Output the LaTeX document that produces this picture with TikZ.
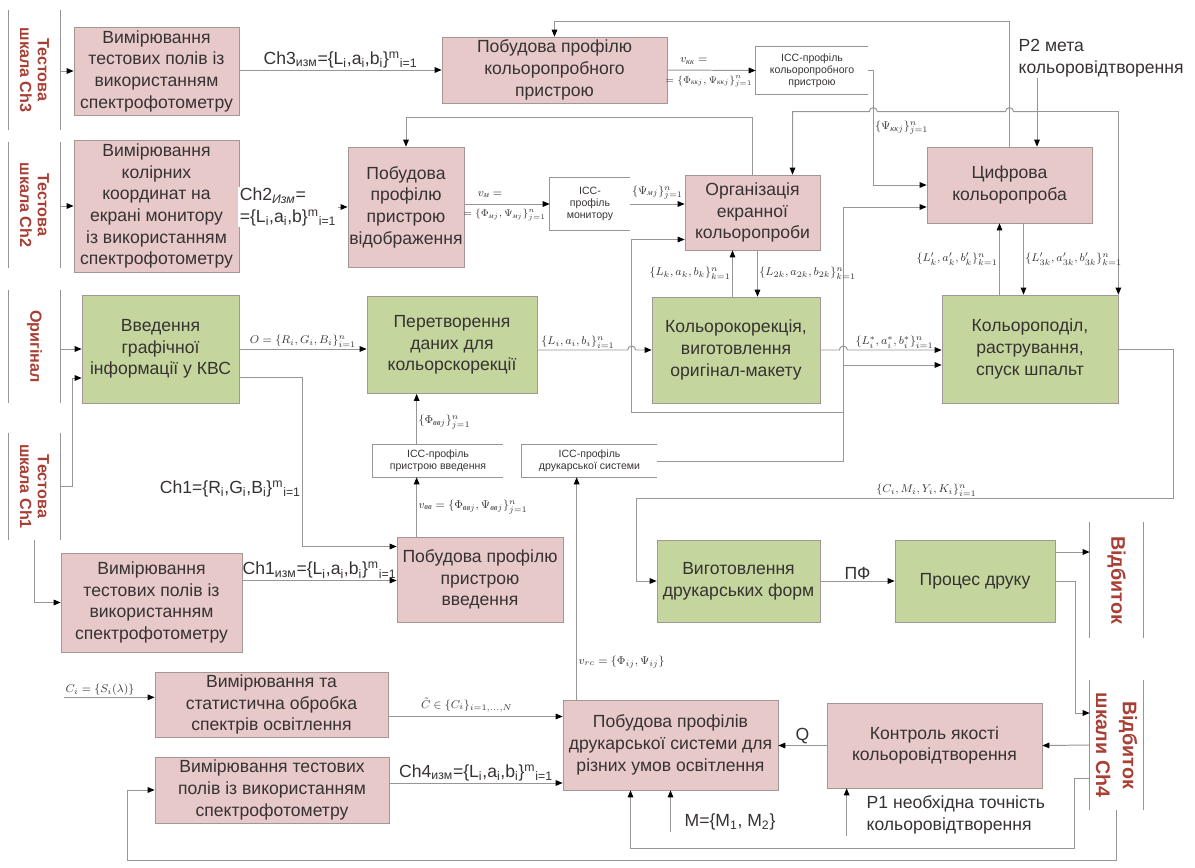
\documentclass[tikz,border=0pt]{standalone}
\usepackage{amsmath}
\usepackage{fontspec}
\setmainfont{Liberation Sans}
\newfontfamily\mserif{Liberation Serif}
\usetikzlibrary{arrows.meta,calc}
\definecolor{pinkfill}{RGB}{231,201,201}
\definecolor{greenfill}{RGB}{196,214,158}
\definecolor{boxline}{RGB}{165,150,150}
\definecolor{wiregray}{RGB}{150,150,150}
\definecolor{txt}{RGB}{55,50,50}
\definecolor{sidered}{RGB}{168,62,52}
\newcommand\pxu{0.025cm}
\newcommand\ukr[1]{\text{\mserif\itshape #1}}
\newcommand\boxfont{\fontsize{12.5}{15.4}\selectfont}
\tikzset{sz/.style 2 args={minimum width=#1*\pxu,minimum height=#2*\pxu},
         box/.style={draw=boxline,line width=0.5pt,align=center,inner sep=1pt,text=txt,font=\boxfont},
         pinkbox/.style={box,fill=pinkfill},
         greenbox/.style={box,fill=greenfill},
         store/.style={align=center,inner sep=1pt,text=txt,font=\fontsize{7.5}{8.5}\selectfont},
         side/.style={rotate=-90,align=center,inner sep=0pt,text=sidered,font=\bfseries\fontsize{11.5}{12.5}\selectfont},
         bigside/.style={side,font=\bfseries\fontsize{14}{19}\selectfont},
         wire/.style={draw=wiregray,line width=0.7pt},
         arr/.style={wire,-{Triangle[length=5pt,width=4pt,color=black]}},
         lbl/.style={inner sep=1pt,text=txt,font=\boxfont},
         mlbl/.style={inner sep=1pt,text=txt,font=\fontsize{8.5}{10}\selectfont},
         slbl/.style={inner sep=0.5pt,text=txt,font=\fontsize{7.5}{9}\selectfont}
         }

\begin{document}
\begin{tikzpicture}[x=0.025cm,y=-0.025cm]
\useasboundingbox (0,0) rectangle (1195,867);

\node[side,sz={120}{51}] (lblCh3) at (34.5,70) {Тестова\\шкала Ch3};
\node[side,sz={125}{51}] (lblCh2) at (34.5,205) {Тестова\\шкала Ch2};
\node[side,sz={113}{51}] (lblOrig) at (34.5,346.5) {Оригінал};
\node[side,sz={107}{51}] (lblCh1) at (34.5,486.5) {Тестова\\шкала Ch1};
\node[bigside,sz={116}{53}] (lblPrint) at (1116.5,580) {Відбиток};
\node[bigside,sz={130}{53}] (lblCh4) at (1116.5,745) {Відбиток\\шкали Ch4};
\foreach \n in {lblCh3,lblCh2,lblOrig,lblCh1,lblPrint,lblCh4}
  \draw[wire] (\n.north west) -- (\n.north east) (\n.south west) -- (\n.south east);

\node[pinkbox,sz={165}{88}] (measCh3) at (156.5,71) {Вимірювання\\тестових полів із\\використанням\\спектрофотометру};
\node[pinkbox,sz={165}{132}] (measCh2) at (156.5,206) {Вимірювання\\колірних\\координат на\\екрані монитору\\із використанням\\спектрофотометру};
\node[pinkbox,sz={225}{66}] (profProof) at (554.5,70) {Побудова профілю\\кольоропробного\\пристрою};
\node[pinkbox,sz={114}{120}] (profMon) at (406,207) {Побудова\\профілю\\пристрою\\відображення};
\node[pinkbox,sz={135}{75}] (softProof) at (752.5,212.5) {Організація\\екранної\\кольоропроби};
\node[pinkbox,sz={165}{76}] (digProof) at (1009.5,185) {Цифрова\\кольоропроба};
\node[greenbox,sz={157}{108}] (input) at (160.5,349) {Введення\\графічної\\інформації у КВС};
\node[greenbox,sz={170}{97}] (convert) at (452,345) {Перетворення\\даних для\\кольорскорекції};
\node[greenbox,sz={168}{106}] (correct) at (736,350) {Кольорокорекція,\\виготовлення\\оригінал-макету};
\node[greenbox,sz={176}{108}] (separ) at (1030,349) {Кольороподіл,\\растрування,\\спуск шпальт};
\node[greenbox,sz={163}{82}] (plates) at (738.5,581) {Виготовлення\\друкарських форм};
\node[greenbox,sz={160}{82}] (printing) at (975,581) {Процес друку};
\node[pinkbox,sz={181}{99}] (measCh1) at (151.5,602.5) {Вимірювання\\тестових полів із\\використанням\\спектрофотометру};
\node[pinkbox,sz={166}{85}] (profInput) at (480,579.5) {Побудова профілю\\пристрою\\введення};
\node[pinkbox,sz={233}{65}] (illum) at (271.5,704.5) {Вимірювання та\\статистична обробка\\спектрів освітлення};
\node[pinkbox,sz={234}{66}] (measCh4) at (272,790) {Вимірювання тестових\\полів із використанням\\спектрофотометру};
\node[pinkbox,sz={215}{90}] (profPrint) at (670.5,745) {Побудова профілів\\друкарської системи для\\різних умов освітлення};
\node[pinkbox,sz={215}{85}] (quality) at (934.5,745.5) {Контроль якості\\кольоровідтворення};

\node[store,sz={112}{47}] (iccProof) at (812,70.5) {ICC-профіль\\кольоропробного\\пристрою};
\node[store,sz={80}{52}] (iccMon) at (590,204) {ICC-\\профіль\\монитору};
\node[store,sz={130}{32}] (iccIn) at (438,461) {ICC-профіль\\пристрою введення};
\node[store,sz={135}{32}] (iccPrint) at (589.5,461) {ICC-профіль\\друкарської системи};
\foreach \n in {iccProof,iccMon,iccIn,iccPrint}
  \draw[wire] (\n.north east) -- (\n.north west) -- (\n.south west) -- (\n.south east);

\node[lbl,align=left,anchor=west] (goalLbl) at (1017,58) {P2 мета\\кольоровідтворення};
\node[lbl,align=left,anchor=west] (tolLbl) at (865,815) {P1 необхідна точність\\кольоровідтворення};
\node[lbl] (mLbl) at (730,822) {M=\{M\textsubscript{1}, M\textsubscript{2}\}};
\node[mlbl] (specLbl) at (100,690) {$C_i=\{S_i(\lambda)\}$};

\coordinate (iccOut) at ($(iccProof.east)+(5,0)$);
\coordinate (p2src) at ($(goalLbl.south west)+(20,0)$);
\coordinate (jP2) at ($(p2src |- digProof.north)+(0,-35)$);
\coordinate (inOut) at ($(input.east)+(0,28)$);
\coordinate (inDrop) at ($(profInput.west)+(-94,-33)$);
\coordinate (c1in) at ($(measCh1.east)+(0,-22)$);
\coordinate (vin) at ($(profInput.north west)+(20,0)$);
\coordinate (vrc) at ($(profPrint.north west)+(14,0)$);
\coordinate (loopSW) at ($(correct.south west)+(-20,9)$);
\coordinate (loopSE) at ($(correct.south east)+(23,9)$);
\coordinate (busTop) at ($(loopSE |- digProof.west)+(0,22)$);
\coordinate (sepIn) at ($(separ.west)+(0,16)$);
\coordinate (upA) at ($(softProof.south)+(-20,0)$);
\coordinate (dnA) at ($(softProof.south)+(5,0)$);
\coordinate (upB) at ($(digProof.south)+(-10,0)$);
\coordinate (dnB) at ($(digProof.south)+(14,0)$);
\coordinate (cmykR) at ($(separ.east)+(55,149)$);
\coordinate (cmykL) at ($(plates.west)+(-20,-83)$);
\coordinate (prOut) at ($(printing.east)+(0,-29)$);
\coordinate (q1) at ($(lblCh4.south)+(0,33)$);
\coordinate (q2) at ($(profPrint.south)+(-40,0)$);
\coordinate (qx) at ($(quality.south west)+(20,0)$);
\coordinate (ilOut) at ($(illum.east)+(0,12)$);
\coordinate (m4Out) at ($(measCh4.east)+(0,-7)$);

\draw[arr] (measCh3.west -| lblCh3.north) -- (measCh3.west);
\draw[arr] (measCh2.west -| lblCh2.north) -- (measCh2.west);
\draw[arr] (input.west -| lblOrig.north) -- (input.west);
\draw[arr] (lblCh1.north) -- ++(12,0) |- ($(input.west)+(0,29)$);
\draw[arr] (lblCh1.east) |- (measCh1.west);

\draw[arr] (measCh3.east |- profProof.west) -- node[above,lbl]{Ch3\textsubscript{изм}=\{L\textsubscript{i},a\textsubscript{i},b\textsubscript{i}\}\textsuperscript{m}\textsubscript{i=1}} (profProof.west);
\draw[arr] (measCh2.east |- profMon.west) -- node[lbl,fill=white,align=left,pos=0.45]{Ch2\textsubscript{\itshape Изм}=\\=\{L\textsubscript{i},a\textsubscript{i},b\}\textsuperscript{m}\textsubscript{i=1}} (profMon.west);
\draw[arr] (profProof.east) -- node[above=3pt,mlbl,pos=0.3]{$v_{\ukr{кк}} =$} node[below=3pt,slbl,pos=0.47]{$=\{\Phi_{\ukr{кк}j},\Psi_{\ukr{кк}j}\}_{j=1}^{n}$} (iccProof.west);
\draw[arr] (iccOut) |- node[pos=0.25,right,mlbl]{$\{\Psi_{\ukr{кк}j}\}_{j=1}^{n}$} (digProof.west);
\draw[wire] (iccProof.east) -- (iccOut);
\draw[arr] (profMon.east |- iccMon.west) -- node[above=3pt,mlbl,pos=0.3]{$v_{\ukr{м}} =$} node[below=3pt,slbl,pos=0.47]{$=\{\Phi_{\ukr{м}j},\Psi_{\ukr{м}j}\}_{j=1}^{n}$} (iccMon.west);
\draw[arr] (iccMon.east) -- node[above=2pt,mlbl]{$\{\Psi_{\ukr{м}j}\}_{j=1}^{n}$} (softProof.west |- iccMon.east);
\draw[arr] (digProof.north) -- ++(0,-125) -| (profProof.north);
\draw[arr] (softProof.north) -- ++(0,-57) -| (profMon.north);

\draw[arr] (p2src) -- (p2src |- digProof.north);
\draw[arr] (jP2) -- ($(jP2 -| digProof.north)+(4,0)$) arc (0:-180:4) -- ($(jP2 -| iccOut)+(4,0)$) arc (0:-180:4) -| ($(softProof.north)+(40,0)$);
\draw[arr] (jP2) -| (separ.north east);

\draw[arr] (input.east) -- node[above,mlbl]{$O=\{R_i,G_i,B_i\}_{i=1}^{n}$} (input.east -| convert.west);
\draw[arr] (inOut) -| node[pos=0.83,left,lbl]{Ch1=\{R\textsubscript{i},G\textsubscript{i},B\textsubscript{i}\}\textsuperscript{m}\textsubscript{i=1}} (inDrop) -- (inDrop -| profInput.west);
\draw[arr] (c1in) -- node[above,lbl]{Ch1\textsubscript{изм}=\{L\textsubscript{i},a\textsubscript{i},b\textsubscript{i}\}\textsuperscript{m}\textsubscript{i=1}} (c1in -| profInput.west);
\draw[arr] (vin) -- node[right,mlbl]{$v_{\ukr{вв}}=\{\Phi_{\ukr{вв}j},\Psi_{\ukr{вв}j}\}_{j=1}^{n}$} (vin |- iccIn.south);
\draw[arr] (vin |- iccIn.north) -- node[right,mlbl,pos=0.45]{$\{\Phi_{\ukr{вв}j}\}_{j=1}^{n}$} (vin |- convert.south);
\draw[arr] (vrc) -- node[pos=0.17,right,mlbl]{$v_{rc}=\{\Phi_{ij},\Psi_{ij}\}$} (vrc |- iccPrint.south);

\draw[arr] (convert.east |- correct.west) -- node[above,mlbl,pos=0.45]{$\{L_i,a_i,b_i\}_{i=1}^{n}$} ($(loopSW |- correct.west)+(-4,0)$) arc (180:360:4) -- (correct.west);
\draw[arr] (correct.east) -- ($(loopSE |- correct.east)+(-4,0)$) arc (180:360:4) -- node[above,mlbl]{$\{L_i^{*},a_i^{*},b_i^{*}\}_{i=1}^{n}$} (correct.east -| separ.west);
\draw[arr] (iccPrint.east) -| (busTop) -- (busTop -| digProof.west);
\draw[arr] (loopSE |- sepIn) -- (sepIn);
\draw[arr] (loopSE) -- (loopSW) |- ($(softProof.west)+(0,27)$);

\draw[arr] (upA |- correct.north) -- node[left,mlbl]{$\{L_k,a_k,b_k\}_{k=1}^{n}$} (upA);
\draw[arr] (dnA) -- node[right,mlbl]{$\{L_{2k},a_{2k},b_{2k}\}_{k=1}^{n}$} (dnA |- correct.north);
\draw[arr] (upB |- separ.north) -- node[left,mlbl]{$\{L_k',a_k',b_k'\}_{k=1}^{n}$} (upB);
\draw[arr] (dnB) -- node[right,mlbl]{$\{L_{3k}',a_{3k}',b_{3k}'\}_{k=1}^{n}$} (dnB |- separ.north);

\draw[arr] (separ.east) -| (cmykR) -- node[pos=0.46,above,mlbl]{$\{C_i,M_i,Y_i,K_i\}_{i=1}^{n}$} (cmykL) |- (plates.west);
\draw[arr] (plates.east) -- node[above,lbl]{ПФ} (printing.west);
\draw[arr] (prOut) -- (prOut -| lblPrint.south);
\draw[arr] (printing.east) -- ++(20,0) |- ($(lblCh4.south)+(0,-32)$);
\draw[arr] (lblCh4.south) -- (quality.east);
\draw[arr] (quality.west) -- node[above,lbl]{Q} (profPrint.east |- quality.west);
\draw[arr] (q1) -- ++(-15,0) -- ++(0,70) -| (q2);
\draw[arr] (lblCh4.east) -- ++(0,50) -| ($(measCh4.west)+(-27,0)$) -- (measCh4.west);
\draw[arr] (qx |- tolLbl.south) -- (qx);
\draw[arr] (profPrint.south |- mLbl.south) -- (profPrint.south);

\draw[arr] (specLbl.south west) -- (specLbl.south west -| illum.west);
\draw[arr] (ilOut) -- node[above=2pt,mlbl,pos=0.45]{$\tilde{C}\in\{C_i\}_{i=1,\ldots,N}$} (ilOut -| profPrint.west);
\draw[arr] (m4Out) -- node[above,lbl]{Ch4\textsubscript{изм}=\{L\textsubscript{i},a\textsubscript{i},b\textsubscript{i}\}\textsuperscript{m}\textsubscript{i=1}} (m4Out -| profPrint.west);
\end{tikzpicture}
\end{document}
